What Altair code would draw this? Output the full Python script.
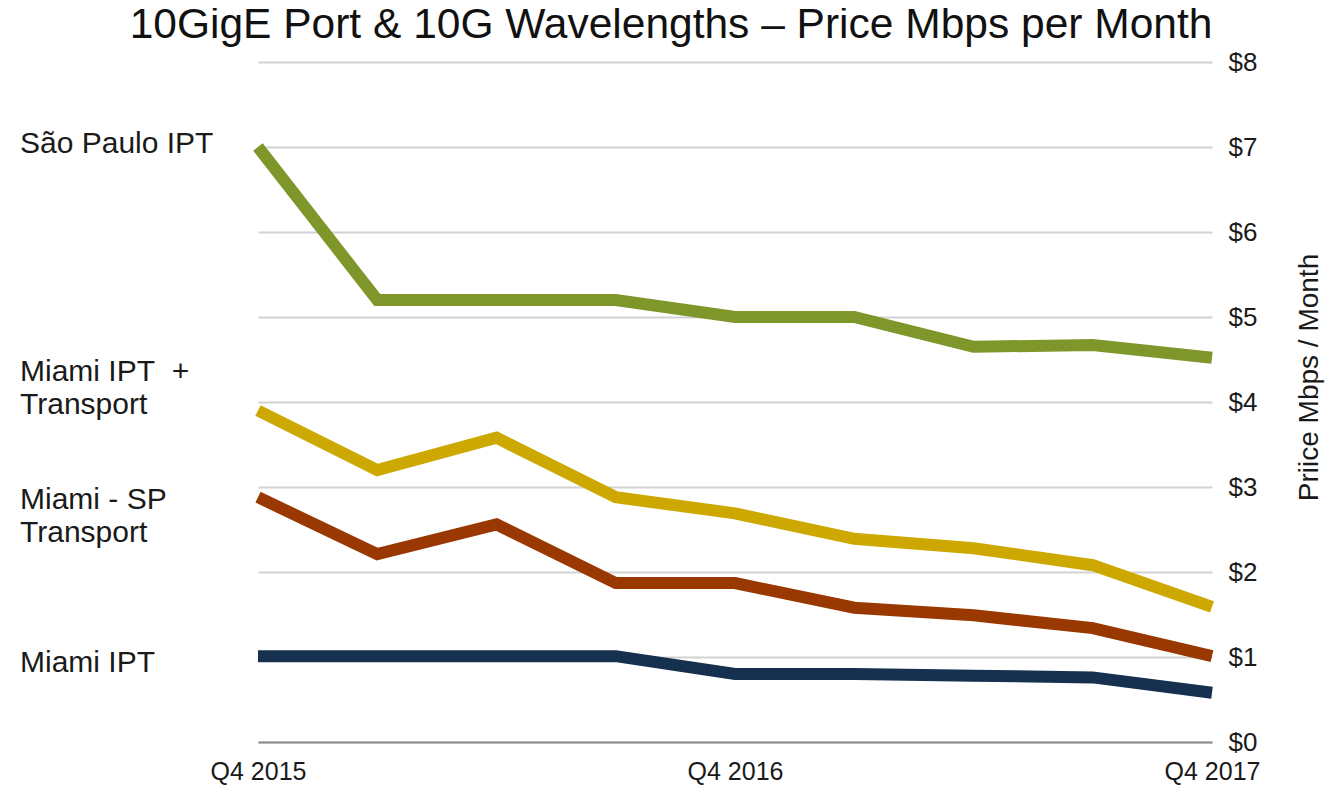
import altair as alt
import pandas as pd

quarters = ["Q4 2015", "Q1 2016", "Q2 2016", "Q3 2016", "Q4 2016",
            "Q1 2017", "Q2 2017", "Q3 2017", "Q4 2017"]
series_names = ["São Paulo IPT", "Miami IPT + Transport", "Miami - SP Transport", "Miami IPT"]
sao_paulo_ipt = [7.0, 5.2, 5.2, 5.2, 5.0, 5.0, 4.65, 4.67, 4.52]
miami_ipt_transport = [3.9, 3.2, 3.58, 2.88, 2.69, 2.39, 2.28, 2.08, 1.59]
miami_sp_transport = [2.88, 2.21, 2.56, 1.87, 1.87, 1.58, 1.49, 1.34, 1.01]
miami_ipt = [1.01, 1.01, 1.01, 1.01, 0.8, 0.8, 0.78, 0.76, 0.58]
colors = ["#7F962A", "#CCA800", "#993800", "#16304F"]

label_texts = ["São Paulo IPT", "Miami IPT\u00a0 +\nTransport", "Miami - SP\nTransport", "Miami IPT"]
label_y = [7.04, 4.35, 2.85, 0.93]

title_text = "10GigE Port & 10G Wavelengths \u2013 Price Mbps per Month"

rows = []
for name, vals in zip(series_names, [sao_paulo_ipt, miami_ipt_transport, miami_sp_transport, miami_ipt]):
    for q, v in zip(quarters, vals):
        rows.append({"series": name, "quarter": q, "price": v})
df = pd.DataFrame(rows)
labels_df = pd.DataFrame({"series": series_names, "label": label_texts, "price": label_y})
title_df = pd.DataFrame({"t": [title_text]})

FONT = "Liberation Sans"
yscale = alt.Scale(domain=[0, 8], nice=False)

x_enc = alt.X("quarter:O", sort=quarters,
              scale=alt.Scale(type="point", padding=0),
              axis=alt.Axis(values=["Q4 2015", "Q4 2016", "Q4 2017"], labelAngle=0,
                            title=None, ticks=False, grid=False,
                            domain=True, domainColor="#8c8c8c", domainWidth=2,
                            labelPadding=17, labelFontSize=25, labelFont=FONT,
                            labelColor="#1a1a1a"))
y_axis = alt.Axis(orient="right", values=list(range(9)),
                  labelExpr="'$' + datum.value",
                  ticks=False, domain=False, grid=True,
                  gridColor="#d2d2d2", gridWidth=2,
                  labelPadding=16, labelFontSize=26, labelFont=FONT,
                  labelColor="#1a1a1a",
                  title="Priice Mbps / Month", titleFont=FONT,
                  titleFontSize=28, titleFontWeight="normal",
                  titleColor="#1a1a1a", titleAngle=270,
                  titleX=97, titleY=315, titleAlign="center",
                  titleBaseline="middle")

lines = alt.Chart(df).mark_line(strokeWidth=12, strokeCap="butt", strokeJoin="miter").encode(
    x=x_enc,
    y=alt.Y("price:Q", scale=yscale, axis=y_axis),
    color=alt.Color("series:N", scale=alt.Scale(domain=series_names, range=colors), legend=None),
    detail="series:N",
)

labels = alt.Chart(labels_df).mark_text(
    align="left", baseline="middle", font=FONT, fontSize=30,
    lineBreak="\n", lineHeight=33, color="#1a1a1a"
).encode(
    x=alt.value(-238),
    y=alt.Y("price:Q", scale=yscale, axis=y_axis),
    text="label:N",
)

title = alt.Chart(title_df).mark_text(
    align="center", baseline="alphabetic", font=FONT, fontSize=42.5, color="#111111"
).encode(
    x=alt.value(413),
    y=alt.value(-24),
    text="t:N",
)

chart = alt.layer(lines, labels, title).properties(
    width=954, height=680,
    background="white",
    autosize=alt.AutoSizeParams(type="none"),
    padding={"left": 250, "top": 54, "right": 114, "bottom": 43},
).configure_view(stroke=None)

chart.save("out.html", embed_options={"renderer": "svg", "actions": False})
